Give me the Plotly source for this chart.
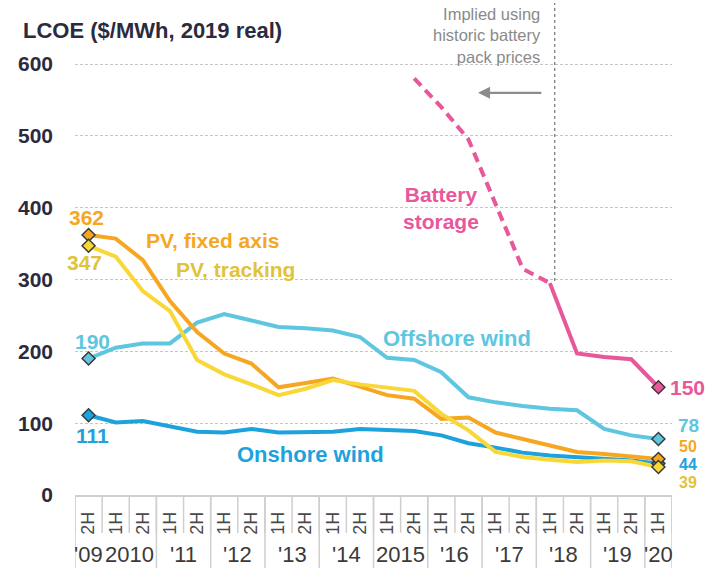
import plotly.graph_objects as go

categories = ["2H 2009", "1H 2010", "2H 2010", "1H 2011", "2H 2011", "1H 2012", "2H 2012",
              "1H 2013", "2H 2013", "1H 2014", "2H 2014", "1H 2015", "2H 2015", "1H 2016",
              "2H 2016", "1H 2017", "2H 2017", "1H 2018", "2H 2018", "1H 2019", "2H 2019",
              "1H 2020"]
half_labels = ["2H", "1H", "2H", "1H", "2H", "1H", "2H", "1H", "2H", "1H", "2H", "1H",
               "2H", "1H", "2H", "1H", "2H", "1H", "2H", "1H", "2H", "1H"]
year_labels = ["'09", "2010", "'11", "'12", "'13", "'14", "2015", "'16", "'17", "'18", "'19", "'20"]
year_keys = ["2009", "2010", "2011", "2012", "2013", "2014", "2015", "2016", "2017", "2018", "2019", "2020"]
y_ticks = [0, 100, 200, 300, 400, 500, 600]

pv_fixed = [362, 357, 327, 270, 227, 197, 183, 150, 156, 162, 151, 139, 134, 106, 108, 87, 78, 69, 60, 57, 53, 50]
pv_tracking = [347, 332, 284, 256, 188, 168, 154, 139, 148, 160, 154, 150, 145, 113, 90, 60, 53, 49, 46, 48, 47, 39]
offshore = [190, 205, 211, 211, 240, 252, 243, 234, 232, 229, 220, 191, 188, 171, 136, 129, 124, 120, 118, 92, 83, 78]
onshore = [111, 101, 103, 95, 88, 87, 92, 87, 88, 88, 92, 91, 89, 83, 72, 66, 59, 55, 53, 51, 48, 44]
battery_implied = [None] * 12 + [580, 540, 495, 405, 315, 295] + [None] * 4
battery = [None] * 17 + [295, 197, 192, 189, 150]

C_FIXED = "#F6A722"
C_TRACK = "#F8D737"
C_TRACK_TXT = "#E0C33C"
C_OFF = "#5EC6DF"
C_ON = "#1EA2DC"
C_BAT = "#E9579B"
FONT = "Arial, 'Liberation Sans', sans-serif"

fig = go.Figure()


def add_line(vals, color, dash="solid"):
    fig.add_trace(go.Scatter(x=categories, y=vals, mode="lines", connectgaps=False,
                             line=dict(color=color, width=4, dash=dash),
                             hoverinfo="skip", showlegend=False))


def add_ends(vals, color, first=True):
    pts = [(categories[i], v) for i, v in enumerate(vals) if v is not None]
    sel = [pts[0], pts[-1]] if first else [pts[-1]]
    fig.add_trace(go.Scatter(x=[p[0] for p in sel], y=[p[1] for p in sel], mode="markers",
                             marker=dict(symbol="diamond", size=10, color=color,
                                         line=dict(color="#3a3a3a", width=1.5)),
                             hoverinfo="skip", showlegend=False))


add_line(offshore, C_OFF)
add_line(onshore, C_ON)
add_line(pv_fixed, C_FIXED)
add_line(pv_tracking, C_TRACK)
add_line(battery_implied, C_BAT, dash="10px,6px")
add_line(battery, C_BAT)
add_ends(offshore, C_OFF)
add_ends(onshore, C_ON)
add_ends(pv_fixed, C_FIXED)
add_ends(pv_tracking, C_TRACK)
add_ends(battery, C_BAT, first=False)

ann = []


def txt(x, y, text, color, size=21, xanchor="center", xshift=0, yshift=0, weight=700, xref="x", yref="y"):
    ann.append(dict(x=x, y=y, xref=xref, yref=yref, text=text, showarrow=False,
                    xanchor=xanchor, yanchor="middle", xshift=xshift, yshift=yshift,
                    borderpad=0,
                    font=dict(family=FONT, size=size, color=color, weight=weight)))


# start value labels
txt(0, pv_fixed[0], str(pv_fixed[0]), C_FIXED, xshift=-2, yshift=17)
txt(0, pv_tracking[0], str(pv_tracking[0]), C_TRACK_TXT, xshift=-4, yshift=-17)
txt(0, offshore[0], str(offshore[0]), C_OFF, xshift=4, yshift=17)
txt(0, onshore[0], str(onshore[0]), C_ON, xshift=4, yshift=-20)
# end value labels
last = len(categories) - 1
txt(last, battery[-1], str(battery[-1]), C_BAT, xanchor="left", xshift=11, yshift=0)
txt(last, offshore[-1], str(offshore[-1]), C_OFF, size=19, xanchor="left", xshift=19, yshift=13)
txt(last, pv_fixed[-1], str(pv_fixed[-1]), C_FIXED, size=16, xanchor="left", xshift=20, yshift=13)
txt(last, onshore[-1], str(onshore[-1]), C_ON, size=16, xanchor="left", xshift=20, yshift=-1)
txt(last, pv_tracking[-1], str(pv_tracking[-1]), C_TRACK_TXT, size=16, xanchor="left", xshift=20, yshift=-16)

# series labels
txt(4.55, 354, "PV, fixed axis", C_FIXED, size=21)
txt(5.4, 314, "PV, tracking", C_TRACK_TXT, size=21)
txt(13.57, 218, "Offshore wind", C_OFF, size=22)
txt(8.16, 56, "Onshore wind", C_ON, size=22)
txt(12.98, 400, "Battery<br>storage", C_BAT, size=21)

# axis title
txt(-0.0888, 0.945, "LCOE ($/MWh, 2019 real)", "#2b2b3d", size=22, xanchor="left",
    xref="paper", yref="paper")

# note + arrow
ann.append(dict(x=16.75, y=640, xref="x", yref="y", text="Implied using<br>historic battery<br>pack prices",
                showarrow=False, xanchor="right", yanchor="middle", align="right",
                font=dict(family=FONT, size=16.5, color="#8a8a8a")))
ann.append(dict(x=14.35, y=560, ax=16.74, ay=560, xref="x", yref="y", axref="x", ayref="y",
                text="", showarrow=True, arrowhead=2, arrowsize=1.1, arrowwidth=2.2,
                arrowcolor="#8c8c8c"))

# year group labels
for key, lab in zip(year_keys, year_labels):
    idx = [i for i, c in enumerate(categories) if c.endswith(key)]
    ann.append(dict(x=sum(idx) / len(idx), y=0, xref="x", yref="paper", text=lab,
                    showarrow=False, xanchor="center", yanchor="middle", yshift=-59,
                    font=dict(family=FONT, size=22, color="#3a3a3a")))

shapes = []
# category dividers
for k in range(len(categories) + 1):
    shapes.append(dict(type="line", xref="x", yref="paper", x0=k - 0.5, x1=k - 0.5,
                       y0=0, y1=-0.077, line=dict(color="#cfcfcf", width=1.5)))
# year-group dividers
for key in year_keys[1:]:
    idx = [i for i, c in enumerate(categories) if c.endswith(key)]
    b = idx[0] - 0.5
    if b < 1:
        continue
    shapes.append(dict(type="line", xref="x", yref="paper", x0=b, x1=b,
                       y0=0, y1=-0.16, line=dict(color="#cfcfcf", width=1.5)))
for b in (-0.5, len(categories) - 0.5):
    shapes.append(dict(type="line", xref="x", yref="paper", x0=b, x1=b,
                       y0=0, y1=-0.16, line=dict(color="#cfcfcf", width=1.5)))
# vertical dotted boundary
shapes.append(dict(type="line", xref="x", yref="y", x0=17.18, x1=17.18, y0=298, y1=685,
                   line=dict(color="#555555", width=1, dash="dot")))

fig.update_layout(
    width=707, height=568,
    margin=dict(l=75, r=35, t=3, b=73),
    paper_bgcolor="white", plot_bgcolor="white",
    showlegend=False, hovermode=False,
    annotations=ann, shapes=shapes,
    xaxis=dict(type="category", categoryorder="array", categoryarray=categories,
               tickmode="array", tickvals=categories, ticktext=half_labels,
               tickangle=-90, range=[-0.5, len(categories) - 0.5],
               showgrid=False, zeroline=False, showline=True, linecolor="#cfcfcf", linewidth=1.5,
               ticks="", ticklabelstandoff=8,
               tickfont=dict(family=FONT, size=18, color="#4a4a4a")),
    yaxis=dict(range=[0, 685], tickmode="array", tickvals=y_ticks,
               showgrid=True, gridcolor="#c6c6c6", gridwidth=1, griddash="3px,2px",
               zeroline=False, showline=False, ticks="", ticklabelstandoff=21,
               tickfont=dict(family=FONT, size=21, color="#2b2b3d", weight=700)),
)

fig.write_html("out.html", config={"displayModeBar": False, "staticPlot": True},
               post_script="document.body.style.margin='0px';document.body.style.overflow='hidden';")
